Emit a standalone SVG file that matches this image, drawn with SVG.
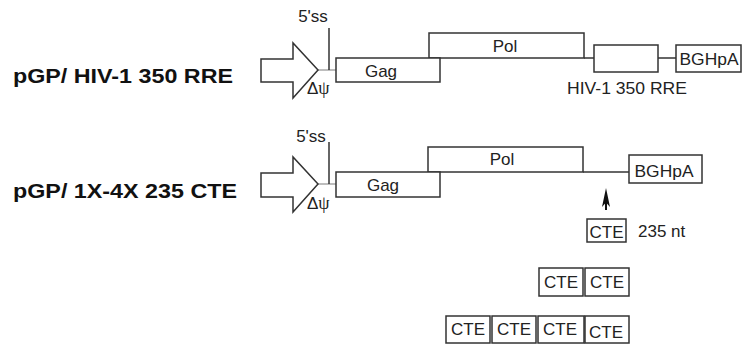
<svg xmlns="http://www.w3.org/2000/svg" width="743" height="346" viewBox="0 0 743 346">
<style>
.box{fill:#fff;stroke:#333;stroke-width:1.5}
.ln{fill:none;stroke:#333;stroke-width:1.5}
.thin{fill:none;stroke:#999;stroke-width:1.3}
.t{font-family:"Liberation Sans",Arial,sans-serif;font-size:17px;fill:#222}
.c{text-anchor:middle}
.psi{font-family:"Liberation Serif","Times New Roman",serif;font-size:18px}
.lbl{font-family:"Liberation Sans",Arial,sans-serif;font-size:21px;font-weight:bold;fill:#111}
</style>
<rect width="743" height="346" fill="#fff"/>
<g id="label1"><text class="lbl" x="13" y="83" textLength="220" lengthAdjust="spacingAndGlyphs">pGP/ HIV-1 350 RRE</text></g>
<g id="label2"><text class="lbl" x="13" y="198" textLength="224" lengthAdjust="spacingAndGlyphs">pGP/ 1X-4X 235 CTE</text></g>

<g id="connectors">
<line class="thin" x1="318" y1="70" x2="336" y2="70"/>
<line class="ln" x1="329" y1="28" x2="329" y2="70"/>
<line class="ln" x1="584" y1="58" x2="594" y2="58"/>
<line class="ln" x1="658" y1="58" x2="676" y2="58"/>
<line class="thin" x1="318" y1="184" x2="336" y2="184"/>
<line class="ln" x1="329" y1="142" x2="329" y2="184"/>
<line class="ln" x1="583" y1="172" x2="629" y2="172"/>
<line x1="606" y1="198" x2="606" y2="210" stroke="#111" stroke-width="2"/>
<path d="M606 188 L610 207 L606 202.5 L602 207 Z" fill="#111"/>
</g>

<g id="promoter1"><path class="box" d="M261 59 H293 V43 L318 70 L293 98 V82 H261 Z"/></g>
<g id="ss1"><text class="t c" x="313" y="22">5'ss</text></g>
<g id="psi1"><text class="t" x="307" y="94">Δ<tspan class="psi">ψ</tspan></text></g>
<g id="pol1"><rect class="box" x="429" y="33" width="155" height="25"/><text class="t c" x="505" y="52">Pol</text></g>
<g id="gag1"><rect class="box" x="336" y="58" width="104" height="24"/><text class="t c" x="381" y="77">Gag</text></g>
<g id="rre1"><rect class="box" x="594" y="45" width="64" height="27"/><text class="t c" x="627" y="94" textLength="120" lengthAdjust="spacingAndGlyphs">HIV-1 350 RRE</text></g>
<g id="bgh1"><rect class="box" x="676" y="45" width="65" height="27"/><text class="t c" x="709" y="65" textLength="59" lengthAdjust="spacingAndGlyphs">BGHpA</text></g>

<g id="promoter2"><path class="box" d="M261 173 H293 V157 L318 184 L293 212 V197 H261 Z"/></g>
<g id="ss2"><text class="t c" x="311" y="142">5'ss</text></g>
<g id="psi2"><text class="t" x="307" y="209">Δ<tspan class="psi">ψ</tspan></text></g>
<g id="pol2"><rect class="box" x="428" y="147" width="155" height="25"/><text class="t c" x="502" y="165">Pol</text></g>
<g id="gag2"><rect class="box" x="336" y="172" width="104" height="25"/><text class="t c" x="383" y="191">Gag</text></g>
<g id="bgh2"><rect class="box" x="629" y="155" width="73" height="28"/><text class="t c" x="664" y="177" textLength="59" lengthAdjust="spacingAndGlyphs">BGHpA</text></g>

<g id="cte1"><rect class="box" x="587" y="219" width="39" height="23"/><text class="t c" x="606.5" y="238">CTE</text><text class="t" x="638" y="237">235 nt</text></g>

<g id="cte2a"><rect class="box" x="539" y="268" width="44" height="28"/><text class="t c" x="561" y="288">CTE</text></g>
<g id="cte2b"><rect class="box" x="585" y="268" width="44" height="28"/><text class="t c" x="607" y="288">CTE</text></g>

<g id="cte4a"><rect class="box" x="446" y="316" width="44" height="27"/><text class="t c" x="468" y="335">CTE</text></g>
<g id="cte4b"><rect class="box" x="492" y="316" width="44" height="27"/><text class="t c" x="514" y="335">CTE</text></g>
<g id="cte4c"><rect class="box" x="538" y="316" width="46" height="27"/><text class="t c" x="560" y="335">CTE</text></g>
<g id="cte4d"><rect class="box" x="585" y="316" width="44" height="27"/><text class="t c" x="606" y="338">CTE</text></g>
</svg>
